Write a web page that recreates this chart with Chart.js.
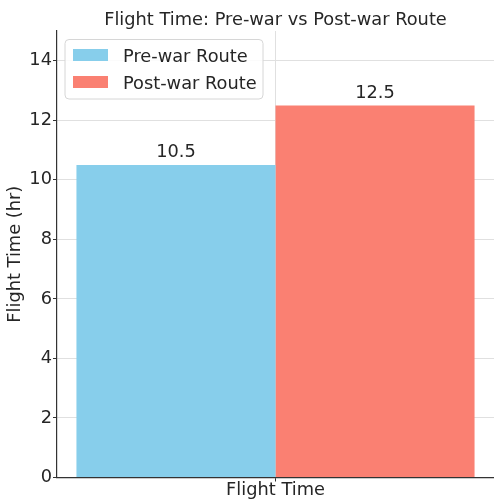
<!DOCTYPE html>
<html>
<head>
<meta charset="utf-8">
<script src="https://cdn.jsdelivr.net/npm/chart.js@4"></script>
<style>
  html, body { margin: 0; padding: 0; background: #fff; }
  #wrap { width: 494px; height: 500px; }
</style>
</head>
<body>
<div id="wrap"><canvas id="c" width="494" height="500"></canvas></div>
<script>
// Flight time comparison data
const categories = ['Flight Time'];
const seriesNames = ['Pre-war Route', 'Post-war Route'];
const preWar = [10.5];
const postWar = [12.5];
const yTicks = [0, 2, 4, 6, 8, 10, 12, 14];

const FONT = "'DejaVu Sans', sans-serif";
const SIZE = 17.8;
const TEXT = '#262626';

// Title, legend and value labels drawn on top of the plot
const overlay = {
  id: 'overlay',
  afterDatasetsDraw(chart) {
    const ctx = chart.ctx;
    const area = chart.chartArea;
    ctx.save();

    // value labels above each bar
    ctx.font = SIZE + 'px ' + FONT;
    ctx.fillStyle = TEXT;
    ctx.textAlign = 'center';
    ctx.textBaseline = 'alphabetic';
    chart.data.datasets.forEach((ds, i) => {
      chart.getDatasetMeta(i).data.forEach((bar, j) => {
        ctx.fillText(String(ds.data[j]), bar.x, bar.y - 7.5);
      });
    });

    // title
    ctx.fillText('Flight Time: Pre-war vs Post-war Route', (area.left + area.right) / 2, 24.5);

    // legend box
    const bx = 65, by = 39.5, bw = 198, bh = 59.5, r = 4;
    ctx.beginPath();
    ctx.moveTo(bx + r, by);
    ctx.arcTo(bx + bw, by, bx + bw, by + bh, r);
    ctx.arcTo(bx + bw, by + bh, bx, by + bh, r);
    ctx.arcTo(bx, by + bh, bx, by, r);
    ctx.arcTo(bx, by, bx + bw, by, r);
    ctx.closePath();
    ctx.fillStyle = 'rgba(255,255,255,0.85)';
    ctx.fill();
    ctx.strokeStyle = '#d6d6d6';
    ctx.lineWidth = 1;
    ctx.stroke();

    ctx.textAlign = 'left';
    chart.data.datasets.forEach((ds, i) => {
      const cy = 55 + i * 27;
      ctx.fillStyle = ds.backgroundColor;
      ctx.fillRect(73, cy - 6, 35, 12);
      ctx.fillStyle = TEXT;
      ctx.fillText(ds.label, 123, cy + 6.5);
    });
    ctx.restore();
  }
};

const gridStyle = {
  color: '#e0e0e0',
  borderDash: [2, 3],
  tickColor: '#333',
  tickBorderDash: [],
  tickLength: 4,
  lineWidth: 1
};

new Chart(document.getElementById('c'), {
  type: 'bar',
  data: {
    labels: categories,
    datasets: [
      { label: seriesNames[0], data: preWar, backgroundColor: '#87CEEB' },
      { label: seriesNames[1], data: postWar, backgroundColor: '#FA8072' }
    ]
  },
  options: {
    responsive: false,
    animation: false,
    devicePixelRatio: 1,
    layout: { padding: { top: 31, right: 0, bottom: 0, left: 0 } },
    datasets: { bar: { categoryPercentage: 0.911, barPercentage: 1.0, borderWidth: 0 } },
    plugins: { legend: { display: false }, tooltip: { enabled: false }, title: { display: false } },
    scales: {
      x: {
        afterFit(s) { s.height = 22.5; },
        grid: Object.assign({ offset: false }, gridStyle),
        border: { display: true, color: '#333', width: 1.2 },
        ticks: { color: TEXT, font: { family: FONT, size: SIZE }, padding: -2 }
      },
      y: {
        min: 0,
        max: 15,
        afterFit(s) { s.width = 57; },
        afterBuildTicks(s) { s.ticks = yTicks.map(v => ({ value: v })); },
        grid: gridStyle,
        border: { display: true, color: '#333', width: 1.2 },
        ticks: { color: TEXT, font: { family: FONT, size: SIZE }, padding: 1 },
        title: {
          display: true,
          text: 'Flight Time (hr)',
          color: TEXT,
          font: { family: FONT, size: SIZE },
          padding: { top: 5, bottom: 0 }
        }
      }
    }
  },
  plugins: [overlay]
});
</script>
</body>
</html>
